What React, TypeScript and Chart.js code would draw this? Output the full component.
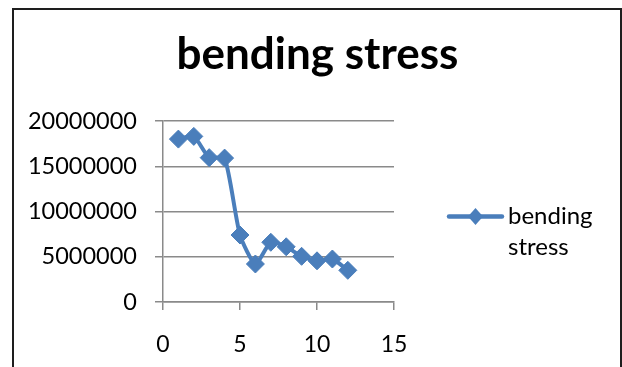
import React, { useEffect, useRef } from 'react';
import { Chart, registerables } from 'chart.js';

Chart.register(...registerables);

// ---- data ----
const chartTitle = 'bending stress';
const seriesName = 'bending stress';
const legendLines = ['bending', 'stress'];
const xValues = [1, 2, 3, 4, 5, 6, 7, 8, 9, 10, 11, 12];
const stressValues = [
  18000000, 18300000, 15950000, 15900000, 7400000, 4200000,
  6600000, 6100000, 5050000, 4550000, 4750000, 3500000,
];
const xMin = 0;
const xMax = 15;
const xStep = 5;
const yMin = 0;
const yMax = 20000000;
const yStep = 5000000;

const SERIES_COLOR = '#4a7ebb';
const GRID_COLOR = '#8a8a8a';
const FONT = 'Lato';

const overlayPlugin = {
  id: 'overlay',
  afterDraw(chart: any) {
    const ctx = chart.ctx as CanvasRenderingContext2D;
    ctx.save();
    // title
    ctx.fillStyle = '#000';
    ctx.font = `bold 44px ${FONT}`;
    ctx.textAlign = 'center';
    ctx.textBaseline = 'alphabetic';
    ctx.fillText(chartTitle, 317.5, 69);

    // legend
    const ly = 216.5;
    ctx.strokeStyle = SERIES_COLOR;
    ctx.lineWidth = 4.5;
    ctx.lineCap = 'round';
    ctx.beginPath();
    ctx.moveTo(449, ly);
    ctx.lineTo(502, ly);
    ctx.stroke();
    ctx.fillStyle = SERIES_COLOR;
    const rx = 7.5;
    const ry = 8.5;
    const cx = 475.5;
    ctx.beginPath();
    ctx.moveTo(cx - rx, ly);
    ctx.lineTo(cx, ly - ry);
    ctx.lineTo(cx + rx, ly);
    ctx.lineTo(cx, ly + ry);
    ctx.closePath();
    ctx.fill();

    ctx.fillStyle = '#000';
    ctx.font = `24px ${FONT}`;
    ctx.textAlign = 'left';
    ctx.textBaseline = 'middle';
    legendLines.forEach((t, i) => ctx.fillText(t, 508, ly + i * 31));
    ctx.restore();
  },
};

export default function App() {
  const canvasRef = useRef<HTMLCanvasElement | null>(null);

  useEffect(() => {
    if (!canvasRef.current) return;
    Chart.defaults.font.family = FONT;
    const chart = new Chart(canvasRef.current, {
      type: 'line',
      data: {
        datasets: [
          {
            label: seriesName,
            data: xValues.map((x, i) => ({ x, y: stressValues[i] })),
            borderColor: SERIES_COLOR,
            backgroundColor: SERIES_COLOR,
            borderWidth: 4,
            tension: 0.2,
            pointStyle: 'rectRot',
            pointRadius: 9,
            pointBorderWidth: 1,
            pointBackgroundColor: SERIES_COLOR,
            pointBorderColor: SERIES_COLOR,
            clip: false as any,
          },
        ],
      },
      options: {
        animation: false,
        responsive: false,
        maintainAspectRatio: false,
        layout: { padding: { left: 12, top: 121, right: 228, bottom: 0 } },
        plugins: {
          legend: { display: false },
          title: { display: false },
          tooltip: { enabled: false },
        },
        scales: {
          x: {
            type: 'linear',
            min: xMin,
            max: xMax,
            afterFit: (s: any) => {
              s.height = 65;
            },
            ticks: {
              stepSize: xStep,
              padding: 21,
              color: '#000',
              font: { size: 23, family: FONT },
              maxRotation: 0,
              callback: (v: any) => String(v),
            },
            grid: {
              display: true,
              drawOnChartArea: false,
              drawTicks: true,
              tickLength: 8,
              color: GRID_COLOR,
              lineWidth: 1.5,
            },
            border: { display: true, color: GRID_COLOR, width: 1.5 },
          },
          y: {
            type: 'linear',
            min: yMin,
            max: yMax,
            afterFit: (s: any) => {
              s.width = 151;
            },
            ticks: {
              stepSize: yStep,
              padding: 18,
              color: '#000',
              font: { size: 23.5, family: FONT },
              callback: (v: any) => String(v),
            },
            grid: {
              drawOnChartArea: true,
              drawTicks: true,
              tickLength: 8,
              color: GRID_COLOR,
              lineWidth: 1.5,
            },
            border: { display: true, color: GRID_COLOR, width: 1.5 },
          },
        },
      },
      plugins: [overlayPlugin],
    });
    return () => chart.destroy();
  }, []);

  return (
    <div style={{ position: 'absolute', left: 0, top: 0, width: 622, height: 367, background: '#fff', overflow: 'hidden' }}>
      <canvas ref={canvasRef} width={622} height={367} style={{ position: 'absolute', left: 0, top: 0, width: 622, height: 367 }} />
      <div
        style={{
          position: 'absolute',
          left: 12,
          top: 8,
          width: 610,
          height: 400,
          border: '2.5px solid #1e1e1e',
          boxSizing: 'border-box',
          pointerEvents: 'none',
        }}
      />
    </div>
  );
}
